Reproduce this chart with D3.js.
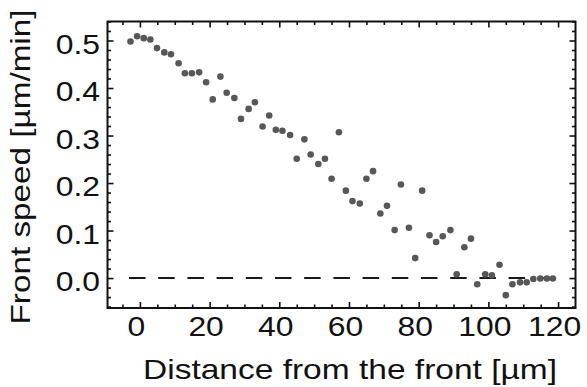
<!DOCTYPE html>
<html>
<head>
<meta charset="utf-8">
<script src="https://cdn.jsdelivr.net/npm/d3@7"></script>
<style>
  body { margin: 0; background: #fff; }
  text { font-family: 'Liberation Sans', Arial, Helvetica, sans-serif; fill: #111; }
</style>
</head>
<body>
<div id="chart"></div>
<script>
// distance from the front (µm) and front speed (µm/min)
const distance = [-2.7, -0.8, 1.1, 3.0, 4.9, 7.0, 8.9, 11.1, 12.9, 14.9,
  17.0, 19.0, 20.9, 23.1, 24.9, 27.1, 29.0, 31.2, 33.0, 35.2,
  37.1, 39.0, 40.9, 43.1, 45.0, 47.2, 49.0, 51.2, 53.1, 55.0,
  57.1, 59.1, 61.0, 63.1, 65.0, 66.9, 69.0, 70.9, 73.1, 74.9,
  77.2, 79.0, 81.0, 83.1, 85.0, 86.9, 89.1, 90.9, 93.1, 95.0,
  96.8, 99.1, 101.0, 103.2, 105.0, 106.9, 109.1, 111.0, 112.9, 114.9, 116.8, 118.5]
const speed = [0.498, 0.509, 0.505, 0.502, 0.484, 0.475, 0.471, 0.452, 0.431, 0.431,
  0.433, 0.412, 0.376, 0.424, 0.390, 0.379, 0.335, 0.356, 0.370, 0.319,
  0.342, 0.312, 0.310, 0.301, 0.251, 0.292, 0.260, 0.240, 0.251, 0.209,
  0.307, 0.184, 0.162, 0.157, 0.209, 0.225, 0.136, 0.152, 0.101, 0.197,
  0.106, 0.042, 0.184, 0.090, 0.076, 0.088, 0.101, 0.008, 0.065, 0.083,
  -0.013, 0.008, 0.006, 0.028, -0.036, -0.013, -0.009, -0.009, -0.002, -0.001, -0.001, -0.001]

const xTicks = [0, 20, 40, 60, 80, 100, 120]
const yTicks = [0.0, 0.1, 0.2, 0.3, 0.4, 0.5]

const margin = { top: 21.5, left: 107.5, right: 11.5, bottom: 79 }
const width = 587 - margin.left - margin.right
const height = 387 - margin.top - margin.bottom

const svg = d3
  .select('#chart')
  .append('svg')
  .attr('width', 587)
  .attr('height', 387)
  .append('g')
  .attr('transform', 'translate(' + margin.left + ',' + margin.top + ')')

const xPositionScale = d3.scaleLinear().domain([-9.3, 125]).range([0, width])
const yPositionScale = d3.scaleLinear().domain([-0.063, 0.54]).range([height, 0])

const points = distance.map((d, i) => ({ x: d, y: speed[i] }))

// zero line
svg
  .append('line')
  .attr('x1', xPositionScale(d3.min(distance)) - 1.5)
  .attr('x2', xPositionScale(d3.max(distance)))
  .attr('y1', yPositionScale(0))
  .attr('y2', yPositionScale(0))
  .attr('stroke', '#1a1a1a')
  .attr('stroke-width', 2)
  .attr('stroke-dasharray', '16.5,12.7')

svg
  .selectAll('circle')
  .data(points)
  .enter()
  .append('circle')
  .attr('cx', d => xPositionScale(d.x))
  .attr('cy', d => yPositionScale(d.y))
  .attr('r', 3.3)
  .attr('fill', '#575757')

// ticks on all four sides, pointing inward
const xMinor = d3.range(-5, 125, 5).filter(v => v % 20 !== 0)
const yMinor = d3.range(-0.06, 0.54, 0.02).filter(v => Math.abs(Math.round(v * 10) - v * 10) > 0.01)

function tickAxis(axis, values, size, transform) {
  const g = svg
    .append('g')
    .attr('transform', transform)
    .call(axis.tickValues(values).tickSize(-size).tickFormat(''))
  g.select('.domain').remove()
  g.selectAll('line').attr('stroke', '#111').attr('stroke-width', 1.6)
  return g
}

tickAxis(d3.axisBottom(xPositionScale), xTicks, 6, 'translate(0,' + height + ')')
tickAxis(d3.axisBottom(xPositionScale), xMinor, 3.5, 'translate(0,' + height + ')')
tickAxis(d3.axisTop(xPositionScale), xTicks, 6, 'translate(0,0)')
tickAxis(d3.axisTop(xPositionScale), xMinor, 3.5, 'translate(0,0)')
tickAxis(d3.axisLeft(yPositionScale), yTicks, 6, 'translate(0,0)')
tickAxis(d3.axisLeft(yPositionScale), yMinor, 3.5, 'translate(0,0)')
tickAxis(d3.axisRight(yPositionScale), yTicks, 6, 'translate(' + width + ',0)')
tickAxis(d3.axisRight(yPositionScale), yMinor, 3.5, 'translate(' + width + ',0)')

// tick labels
const xAxis = d3.axisBottom(xPositionScale).tickValues(xTicks).tickSize(0).tickPadding(9).tickFormat(d3.format('d'))
const xg = svg.append('g').attr('transform', 'translate(-4,' + height + ')').call(xAxis)
xg.select('.domain').remove()
xg.selectAll('text').attr('font-size', '27px').attr('transform', 'scale(1.18,1)').attr('fill', '#111')

const yAxis = d3.axisLeft(yPositionScale).tickValues(yTicks).tickSize(0).tickPadding(6.3).tickFormat(d3.format('.1f'))
const yg = svg.append('g').call(yAxis)
yg.select('.domain').remove()
yg.selectAll('text').attr('font-size', '27px').attr('dy', '0.47em').attr('transform', 'scale(1.18,1)').attr('fill', '#111')

// frame
svg
  .append('rect')
  .attr('width', width)
  .attr('height', height)
  .attr('fill', 'none')
  .attr('stroke', '#111')
  .attr('stroke-width', 2)

svg
  .append('text')
  .text('Distance from the front [µm]')
  .attr('x', width / 2 + 8.5)
  .attr('y', 379 - margin.top)
  .attr('text-anchor', 'middle')
  .attr('font-size', '28px')
  .attr('textLength', 414)
  .attr('lengthAdjust', 'spacingAndGlyphs')

svg
  .append('text')
  .text('Front speed [µm/min]')
  .attr('transform', 'translate(' + (30 - margin.left) + ',' + (167 - margin.top) + ') rotate(-90)')
  .attr('text-anchor', 'middle')
  .attr('font-size', '28px')
  .attr('textLength', 315)
  .attr('lengthAdjust', 'spacingAndGlyphs')
</script>
</body>
</html>
